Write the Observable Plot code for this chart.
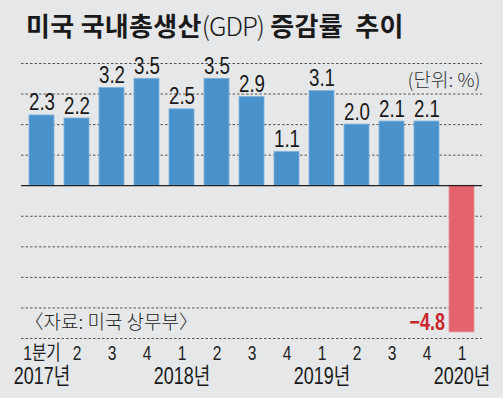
<!DOCTYPE html>
<html>
<head>
<meta charset="utf-8">
<script src="https://cdn.jsdelivr.net/npm/d3@7"></script>
<script src="https://cdn.jsdelivr.net/npm/@observablehq/plot@0.6"></script>
<style>
  html, body { margin: 0; padding: 0; background: #e6e7e8; }
  #wrap { width: 503px; height: 398px; overflow: hidden; background: #e6e7e8; }
  #title {
    height: 50px; box-sizing: border-box; padding: 10px 0 0 26px;
    font-family: "Noto Sans CJK KR", sans-serif; font-weight: 700;
    font-size: 26px; line-height: 30px; color: #1a1a1a; white-space: pre; letter-spacing: 0.3px;
  }
  #title .lt { font-weight: 300; letter-spacing: -1px; }
  svg { display: block; }
</style>
</head>
<body>
<div id="wrap">
  <div id="title">미국 국내총생산<span class="lt">(GDP)</span> 증감률  추이</div>
  <div id="chart"></div>
</div>
<script>
const periods = ["2017Q1","2017Q2","2017Q3","2017Q4","2018Q1","2018Q2","2018Q3","2018Q4","2019Q1","2019Q2","2019Q3","2019Q4","2020Q1"];
const quarterLabels = ["1분기","2","3","4","1","2","3","4","1","2","3","4","1"];
const growth = [2.3, 2.2, 3.2, 3.5, 2.5, 3.5, 2.9, 1.1, 3.1, 2.0, 2.1, 2.1, -4.8];
const yearAt = ["2017Q1","2018Q1","2019Q1","2020Q1"];
const yearLabels = ["2017년","2018년","2019년","2020년"];
const gridTicks = [-5, -4, -3, -2, -1, 1, 2, 3, 4];
const unitNote = "(단위: %)";
const sourceNote = "〈자료: 미국 상무부〉";

const data = periods.map((p, i) => ({period: p, q: quarterLabels[i], value: growth[i]}));
const years = yearAt.map((p, i) => ({period: p, label: yearLabels[i]}));

const font = "'Noto Sans CJK KR', sans-serif";
const digitFont = "'Liberation Sans', 'Noto Sans CJK KR', sans-serif";
const blue = "#4a92cb", red = "#e4636d", redText = "#c9272e";
const fmt = v => (v < 0 ? "−" + Math.abs(v).toFixed(1) : v.toFixed(1));

const chart = Plot.plot({
  width: 503,
  height: 348,
  marginLeft: 21,
  marginRight: 21,
  marginTop: 13,
  marginBottom: 60,
  style: {background: "transparent", fontFamily: font, overflow: "visible"},
  x: {domain: periods, paddingInner: 0.28, paddingOuter: 0.16, axis: null},
  y: {domain: [-5, 4], axis: null},
  color: {type: "identity"},
  marks: [
    Plot.ruleY(gridTicks, {stroke: "#555", strokeWidth: 1, strokeDasharray: "2.5,2"}),
    Plot.barY(data, {x: "period", y: "value", fill: d => d.value < 0 ? red : blue,
      stroke: d => d.value < 0 ? "#ee8f96" : "#7db2dc", strokeWidth: 0.8}),
    Plot.ruleY([0], {stroke: "#222", strokeWidth: 1.3}),
    Plot.text(data.filter(d => d.value >= 0), {x: "period", y: "value", text: d => fmt(d.value),
      lineAnchor: "bottom", dy: -5, fontSize: 24, fill: "#1a1a1a", fontFamily: digitFont, className: "cond"}),
    Plot.text(data.filter(d => d.value < 0), {x: "period", y: "value", text: d => fmt(d.value),
      lineAnchor: "bottom", textAnchor: "end", dx: -17, dy: -2, fontSize: 23, fontWeight: 700, fill: redText,
      fontFamily: digitFont, className: "cond"}),
    Plot.text(data, {x: "period", text: "q", frameAnchor: "bottom", lineAnchor: "top", dy: 7,
      fontSize: 20, fill: "#222", fontFamily: digitFont, className: "cond"}),
    Plot.text(years, {x: "period", text: "label", frameAnchor: "bottom", lineAnchor: "top", dy: 29,
      fontSize: 23, fill: "#1a1a1a", fontFamily: digitFont, className: "cond"}),
    Plot.text([unitNote], {text: d => d, frameAnchor: "top-right", lineAnchor: "middle", dx: -2, dy: 17,
      fontSize: 19, fill: "#333", fontWeight: 300}),
    Plot.text([sourceNote], {text: d => d, frameAnchor: "bottom-left", lineAnchor: "middle", dx: 3, dy: -16,
      fontSize: 19, fill: "#222", fontWeight: 300})
  ]
});
// condensed look: squeeze glyphs horizontally around each text's anchor
chart.querySelectorAll("g.cond text").forEach(t => {
  const tr = t.getAttribute("transform") || "";
  t.setAttribute("transform", tr + " scale(0.78,1)");
});
document.getElementById("chart").appendChild(chart);
</script>
</body>
</html>
